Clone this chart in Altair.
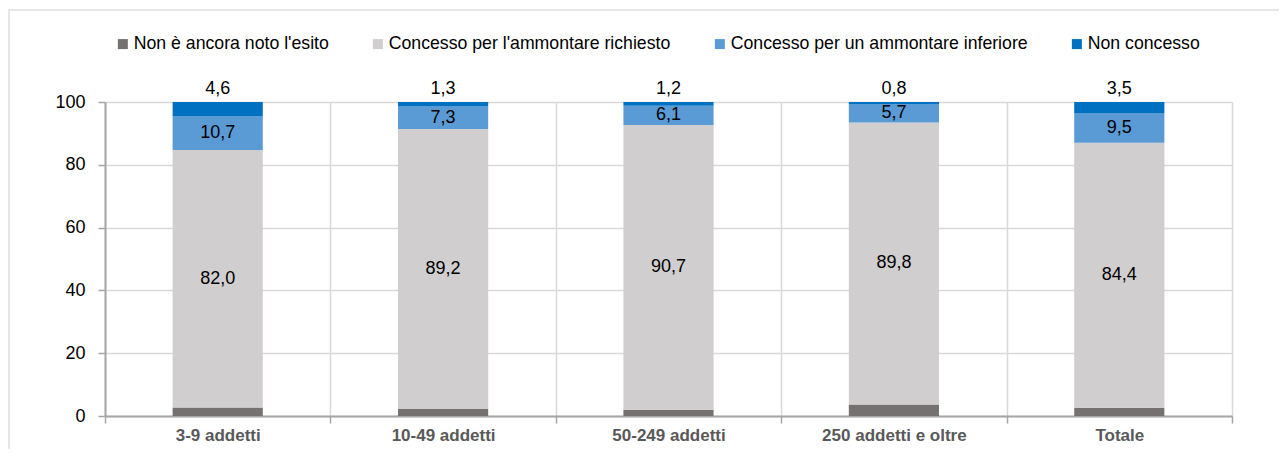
import altair as alt
import pandas as pd

categories = ["3-9 addetti", "10-49 addetti", "50-249 addetti", "250 addetti e oltre", "Totale"]
series = ["Non è ancora noto l'esito", "Concesso per l'ammontare richiesto",
          "Concesso per un ammontare inferiore", "Non concesso"]
colors = ["#767171", "#d0cece", "#5b9bd5", "#0070c0"]

non_noto = [2.7, 2.2, 2.0, 3.7, 2.6]
richiesto = [82.0, 89.2, 90.7, 89.8, 84.4]
inferiore = [10.7, 7.3, 6.1, 5.7, 9.5]
non_concesso = [4.6, 1.3, 1.2, 0.8, 3.5]

FONT = "Liberation Sans"

rows = []
for i, c in enumerate(categories):
    vals = [non_noto[i], richiesto[i], inferiore[i], non_concesso[i]]
    base = 0.0
    for j, s in enumerate(series):
        v = vals[j]
        rows.append({"cat": c, "serie": s, "idx": j, "value": v,
                     "mid": base + v / 2, "top": base + v,
                     "label": f"{v:.1f}".replace(".", ",")})
        base += v
df = pd.DataFrame(rows)

x_enc = alt.X("cat:N", sort=categories, title=None,
              scale=alt.Scale(paddingInner=0, paddingOuter=0),
              axis=alt.Axis(labelAngle=0, tickBand="extent", grid=True, gridColor="#d9d9d9",
                            gridWidth=1.5, domainColor="#a6a6a6", domainWidth=2,
                            tickColor="#a6a6a6", tickSize=7, tickWidth=1.5,
                            labelFont=FONT, labelFontSize=17, labelFontWeight="bold",
                            labelColor="#595959", labelPadding=4))

bars = alt.Chart(df).mark_bar(width={"band": 0.4}).encode(
    x=x_enc,
    y=alt.Y("value:Q", stack="zero", title=None,
            scale=alt.Scale(domain=[0, 100], nice=False),
            axis=alt.Axis(values=[0, 20, 40, 60, 80, 100], grid=True, gridColor="#d9d9d9",
                          gridWidth=1.5, domainColor="#a6a6a6", domainWidth=2,
                          tickColor="#a6a6a6", tickSize=7, tickWidth=1.5,
                          labelFont=FONT, labelFontSize=18, labelColor="#000000",
                          labelPadding=13)),
    color=alt.Color("serie:N", sort=series,
                    scale=alt.Scale(domain=series, range=colors),
                    legend=alt.Legend(title=None, orient="none", direction="horizontal",
                                      legendX=9, legendY=-67, symbolType="square",
                                      symbolSize=100, symbolStrokeWidth=0,
                                      labelFont=FONT, labelFontSize=17.7, labelColor="#000000",
                                      labelOffset=2, columnPadding=40, labelLimit=400)),
    order=alt.Order("idx:Q", sort="ascending"),
)

mid_labels = alt.Chart(df[df["idx"].isin([1, 2])]).mark_text(
    font=FONT, fontSize=18, color="#000000", baseline="middle").encode(
    x=alt.X("cat:N", sort=categories),
    y=alt.Y("mid:Q"),
    text="label:N",
)

top_labels = alt.Chart(df[df["idx"] == 3]).mark_text(
    font=FONT, fontSize=18, color="#000000", baseline="middle", dy=-13).encode(
    x=alt.X("cat:N", sort=categories),
    y=alt.Y("top:Q"),
    text="label:N",
)

frame_top = alt.Chart(df).mark_rule(color="#e6e6e6", strokeWidth=2).encode(
    x=alt.value(-97), x2=alt.value(1200), y=alt.value(-92))
frame_left = alt.Chart(df).mark_rule(color="#e6e6e6", strokeWidth=2).encode(
    x=alt.value(-96), y=alt.value(-92), y2=alt.value(360))

chart = alt.layer(frame_top, frame_left, bars, mid_labels, top_labels).properties(
    width=1127, height=314,
    autosize=alt.AutoSizeParams(type="none"),
    padding={"left": 97, "top": 94, "right": 47, "bottom": 33},
).configure_view(stroke=None)

chart.save("out.html", embed_options={"renderer": "svg", "actions": False})
